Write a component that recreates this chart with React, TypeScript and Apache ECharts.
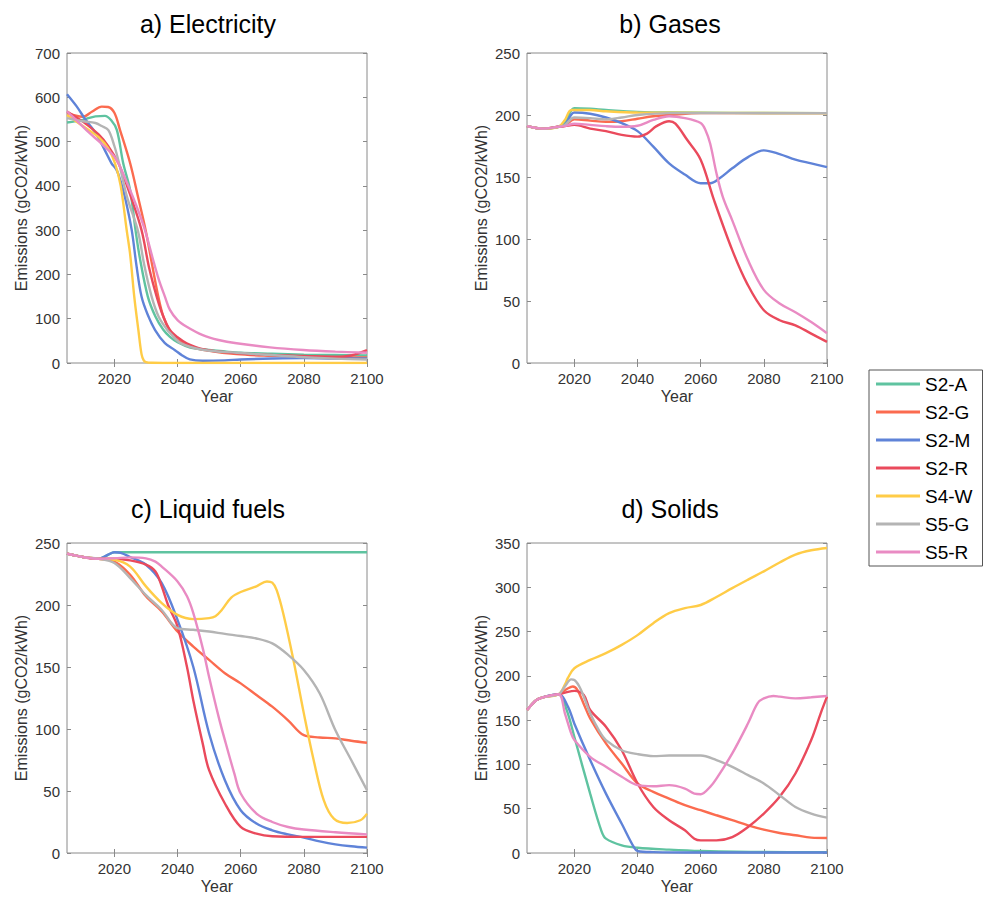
import React, { useEffect, useRef } from "react";
import * as echarts from "echarts";

// ---------- categories / labels ----------
const scenarioNames = ["S2-A", "S2-G", "S2-M", "S2-R", "S4-W", "S5-G", "S5-R"];
const scenarioColors = ["#5fc3a0", "#fb6b4f", "#5f83d8", "#ea4a5c", "#ffcc47", "#b4b4b4", "#e98bc3"];
const panelTitles = ["a) Electricity", "b) Gases", "c) Liquid fuels", "d) Solids"];
const yMaxes = [700, 250, 250, 350];
const ySteps = [100, 50, 50, 50];
const yearTicks = [2020, 2040, 2060, 2080, 2100];
const yearMin = 2005;
const yearMax = 2100;
const yName = "Emissions (gCO2/kWh)";
const xName = "Year";

// ---------- a) Electricity ----------
const elecS2A = [[2005,543],[2010,549],[2014,557],[2017,558],[2019,548],[2020.8,526],[2022.8,451],[2025,390],[2026.7,300],[2028,240],[2030.6,150],[2033,105],[2035.5,75],[2037.6,59],[2040,47],[2044,35],[2048,31],[2055,26],[2060,23],[2070,21],[2080,19],[2090,18],[2100,17]];
const elecS2G = [[2005,564],[2010,556],[2013,568],[2016,579],[2018,578],[2020,565],[2021.8,526],[2025,451],[2027.5,375],[2029.9,300],[2032,220],[2033.9,150],[2035.5,105],[2037.6,72],[2040,52],[2043,40],[2048,30],[2058.7,20],[2070,16],[2080,14],[2090,13],[2100,12.6]];
const elecS2M = [[2005,607],[2008,580],[2011,548],[2014,520],[2017,480],[2019.1,451],[2020.7,436],[2022,410],[2023.5,370],[2025.5,300],[2027,220],[2028.6,150],[2030.5,110],[2032.9,74.5],[2036,45],[2039.2,29],[2041.5,17],[2043.9,8],[2048,5],[2055,6],[2060,8],[2070,10],[2080,11],[2090,10],[2100,10]];
const elecS2R = [[2005,568],[2010,545],[2015,516],[2018,490],[2021.3,451],[2023,420],[2025,380],[2028.6,300],[2031,215],[2033.4,150],[2035.5,105],[2037.6,74.5],[2040,58],[2042.9,44.5],[2048,31],[2058.7,22],[2069.3,18],[2080,15.8],[2090,14],[2095,17],[2100,29]];
const elecS4W = [[2005,560],[2010,535],[2015,510],[2018,485],[2020.2,451],[2022,400],[2023.9,300],[2025,245],[2026.3,150],[2027.6,74.5],[2028.6,20],[2029.3,6],[2030,2],[2032,0.5],[2040,0],[2100,0]];
const elecS5G = [[2005,553],[2010,546],[2014,542],[2016,535],[2018.1,526],[2020,490],[2021.5,451],[2024,375],[2027.4,300],[2029.5,220],[2031.8,150],[2034,105],[2036.6,76],[2037.6,68],[2041,45],[2048,30],[2058.7,23],[2069.3,18],[2080,13],[2090,9.8],[2100,8]];
const elecS5R = [[2005,568],[2008,548],[2012,520],[2016,495],[2020,466],[2022,440],[2025,390],[2027.5,345],[2029.7,300],[2032,240],[2034,190],[2036,150],[2037.6,120],[2040,97],[2042.9,82],[2048,63],[2053,52],[2058.7,44.5],[2069.3,35.4],[2079.8,29.4],[2090,25.6],[2100,23]];

// ---------- b) Gases ----------
const gasS2A = [[2005,191],[2010,189],[2015,190.5],[2017,194],[2020,205.5],[2025,205],[2030,204],[2040,202.5],[2050,202],[2100,201.5]];
const gasS2G = [[2005,191],[2010,189],[2015,190.5],[2017,191.5],[2020,196.5],[2025,195.5],[2030,194.5],[2035,195],[2040,197],[2045,199],[2050,200],[2060,201.5],[2100,201.5]];
const gasS2M = [[2005,191],[2010,189],[2015,190.5],[2017,192],[2020,202],[2025,201],[2030,198],[2035,193.5],[2040,187],[2045,174.5],[2050,161],[2055,152],[2060,145],[2063,145],[2066,149],[2070,157],[2075,166],[2080,171.5],[2085,168.5],[2090,164],[2095,161],[2100,158]];
const gasS2R = [[2005,191],[2010,189],[2015,190.5],[2017,191],[2020,192],[2025,189],[2030,187],[2035,184],[2040,182.6],[2043,185],[2046,191],[2050,195],[2052,193],[2055.7,180],[2060,164],[2064.2,131.5],[2070,91],[2074.7,64],[2080,42.5],[2085,34.5],[2090,30.4],[2095,23.7],[2100,17]];
const gasS4W = [[2005,191],[2010,189],[2015,190.5],[2017,196],[2019.1,204],[2025,204],[2030,203],[2040,202],[2100,201.5]];
const gasS5G = [[2005,191],[2010,189],[2015,190.5],[2017,192],[2020,198],[2025,197.5],[2030,196.5],[2035,198],[2040,200],[2050,201.5],[2100,201.5]];
const gasS5R = [[2005,191],[2010,189],[2015,190.5],[2017,191],[2020,193],[2025,192],[2030,191],[2035,190.5],[2040,191.3],[2045,196],[2050,199],[2055,197.5],[2060,193.5],[2061.5,188],[2063,177],[2065,153],[2067,134],[2070,115],[2075,83],[2080,59],[2085,48],[2090,41],[2095,33],[2100,24]];

// ---------- c) Liquid fuels ----------
const liqS2A = [[2005,241.4],[2010,238.7],[2015,237.3],[2018,240.5],[2020,242.5],[2030,242.5],[2060,242.5],[2100,242.5]];
const liqS2G = [[2005,241.4],[2010,238.7],[2015,237.3],[2020,235],[2025,224.4],[2030,207],[2035,194.8],[2040,178.6],[2045,166.5],[2050,155.7],[2055,145],[2060,136.8],[2065,127.4],[2070,118],[2075,107],[2080,95],[2085,93.2],[2090,92.4],[2095,90.5],[2100,88.9]];
const liqS2M = [[2005,241.4],[2010,238.7],[2015,237.3],[2018,240.6],[2020,242.5],[2022,242],[2025,238.7],[2030,232.5],[2035,217.7],[2040,188],[2045,150],[2050,96.4],[2055,58.7],[2060,34.5],[2065,23.7],[2070,18.3],[2075,15],[2080,12.4],[2085,9.4],[2090,7],[2095,5.4],[2100,4.3]];
const liqS2R = [[2005,241.4],[2010,238.7],[2015,237.3],[2020,237.3],[2025,236],[2030,232.5],[2033,227],[2035,215],[2037,200],[2040,182.6],[2043,150],[2045,123],[2048,88],[2050,66.8],[2055,39.9],[2060,21],[2065,15.6],[2070,13.5],[2080,13],[2100,13]];
const liqS4W = [[2005,241.4],[2010,238.7],[2015,237.3],[2020,236.5],[2025,231],[2030,215],[2035,201.5],[2040,192],[2045,188.6],[2050,189.4],[2052,191],[2054,196],[2057,206],[2060,210.5],[2065,215],[2068.3,219],[2070,218],[2071.4,212],[2073.5,193],[2076.7,155.7],[2080,112.6],[2083.1,75],[2086.3,42.6],[2089.5,27.7],[2093.7,24.2],[2097.9,26.4],[2100,31.8]];
const liqS5G = [[2005,241.4],[2010,238.7],[2015,237.3],[2020,233.8],[2025,221.7],[2030,208],[2035,196],[2040,181.3],[2045,180],[2050,178.6],[2055,176.7],[2060,175],[2065,173],[2070,169],[2075,159.8],[2080,147.6],[2085,128.8],[2090,99],[2095,75],[2100,50.6]];
const liqS5R = [[2005,241.4],[2010,238.7],[2015,237.3],[2020,237.6],[2025,238.4],[2030,237.6],[2033,235],[2035,231],[2040,219],[2043,207],[2045,193.4],[2048,165],[2050,142],[2053,110],[2055,91],[2058,64],[2060,48],[2065,31.8],[2070,25],[2075,21],[2080,18.9],[2090,16.7],[2100,15]];

// ---------- d) Solids ----------
const solS2A = [[2005,161.4],[2008,172.8],[2010,175.8],[2015,179.2],[2017.6,161],[2020,131],[2025,67],[2028.5,25.6],[2030,16.2],[2035,8.7],[2040,6],[2050,3.8],[2060,2.3],[2080,1.1],[2100,1]];
const solS2G = [[2005,161.4],[2008,172.8],[2010,175.8],[2015,179.2],[2018,186],[2019.5,188],[2021,184],[2023,168],[2025,152],[2030,123.7],[2035,101],[2040,78.5],[2045,69],[2050,61.5],[2055,54],[2060,48.3],[2065,42.6],[2070,37],[2075,31.3],[2080,26.4],[2085,22.6],[2090,20],[2095,17.4],[2100,17]];
const solS2M = [[2005,161.4],[2008,172.8],[2010,175.8],[2015,179.2],[2018,165],[2020,146],[2025,105],[2030,67],[2035,33],[2038.8,6.8],[2040,2.3],[2045,1],[2060,0.5],[2100,0.5]];
const solS2R = [[2005,161.4],[2008,172.8],[2010,175.8],[2015,179.2],[2018,182],[2020,183],[2023,178.4],[2025,161.4],[2030,142.6],[2035,116],[2040,78.5],[2045,52],[2050,37],[2055,25.6],[2058,16.2],[2060,14.3],[2065,14.3],[2070,18],[2075,29.4],[2080,44.5],[2085,63.4],[2090,89.8],[2095,127.5],[2098,157.7],[2100,176.5]];
const solS4W = [[2005,161.4],[2008,172.8],[2010,175.8],[2015,179.2],[2017,190],[2018,198],[2020,208.6],[2025,218],[2030,225.6],[2035,235],[2040,246],[2045,259.5],[2050,270.8],[2055,276.5],[2060,280],[2065,289],[2070,299],[2075,308.6],[2080,318],[2085,328],[2090,337],[2095,341.8],[2100,344.4]];
const solS5G = [[2005,161.4],[2008,172.8],[2010,175.8],[2015,179.2],[2017,188],[2019,196],[2020,195.4],[2022,185],[2025,157.7],[2028,137],[2030,127.5],[2035,116],[2040,111.6],[2045,109.4],[2050,110],[2055,110],[2060,110],[2065,104.9],[2070,97.3],[2075,87.9],[2080,78.5],[2085,65.3],[2090,52],[2095,44.5],[2100,40]];
const solS5R = [[2005,161.4],[2008,172.8],[2010,175.8],[2015,179.2],[2017,157.7],[2019,135],[2020,127.5],[2025,108.6],[2030,97.3],[2035,86],[2040,76.6],[2045,75.4],[2050,76.6],[2055,72.8],[2058,67],[2060,66.4],[2063,74.7],[2065,84],[2070,112.4],[2075,146.4],[2078,169],[2080,174.6],[2083,177.3],[2085,176.5],[2090,174.6],[2095,175.8],[2100,177.3]];

const panelData = [
  [elecS2A, elecS2G, elecS2M, elecS2R, elecS4W, elecS5G, elecS5R],
  [gasS2A, gasS2G, gasS2M, gasS2R, gasS4W, gasS5G, gasS5R],
  [liqS2A, liqS2G, liqS2M, liqS2R, liqS4W, liqS5G, liqS5R],
  [solS2A, solS2G, solS2M, solS2R, solS4W, solS5G, solS5R],
];

// layout (positions kept separate from the data)
const gridBoxes = [
  { left: 67, top: 53 },
  { left: 527, top: 53 },
  { left: 67, top: 543 },
  { left: 527, top: 543 },
];
const titlePos = [
  { x: 208, y: 11 },
  { x: 670, y: 11 },
  { x: 208, y: 496 },
  { x: 670, y: 496 },
];

const FONT = "'Liberation Sans', Arial, Helvetica, sans-serif";
const FRAME = "#8a8a8a";
const LABEL = "#333333";

export default function App() {
  const ref = useRef<HTMLDivElement>(null);

  useEffect(() => {
    if (!ref.current) return;
    const chart = echarts.init(ref.current, undefined, { renderer: "svg" });

    const grids: any[] = [];
    const xAxes: any[] = [];
    const yAxes: any[] = [];
    const series: any[] = [];
    const titles: any[] = [];

    panelTitles.forEach((t, i) => {
      titles.push({
        text: t,
        left: titlePos[i].x,
        top: titlePos[i].y,
        textAlign: "center",
        padding: 0,
        textStyle: { fontFamily: FONT, fontSize: 25, fontWeight: "normal", color: "#000" },
      });
      grids.push({
        left: gridBoxes[i].left,
        top: gridBoxes[i].top,
        width: 300,
        height: 310,
        show: true,
        borderColor: FRAME,
        borderWidth: 1,
        backgroundColor: "transparent",
      });
      const tickStyle = { inside: true, length: 4, lineStyle: { color: FRAME, width: 1 }, customValues: yearTicks };
      xAxes.push({
        type: "value",
        gridIndex: i,
        position: "bottom",
        min: yearMin,
        max: yearMax,
        axisLine: { show: false },
        splitLine: { show: false },
        axisTick: tickStyle,
        axisLabel: {
          customValues: yearTicks,
          formatter: (v: number) => String(Math.round(v)),
          fontFamily: FONT,
          fontSize: 15,
          color: LABEL,
          margin: 8,
        },
        name: xName,
        nameLocation: "middle",
        nameGap: 25,
        nameTextStyle: { fontFamily: FONT, fontSize: 16, color: LABEL },
      });
      xAxes.push({
        type: "value",
        gridIndex: i,
        position: "top",
        min: yearMin,
        max: yearMax,
        axisLine: { show: false },
        splitLine: { show: false },
        axisTick: tickStyle,
        axisLabel: { show: false, customValues: yearTicks },
      });
      const yTick = { inside: true, length: 4, lineStyle: { color: FRAME, width: 1 } };
      yAxes.push({
        type: "value",
        gridIndex: i,
        position: "left",
        min: 0,
        max: yMaxes[i],
        interval: ySteps[i],
        axisLine: { show: false },
        splitLine: { show: false },
        axisTick: yTick,
        axisLabel: { fontFamily: FONT, fontSize: 15, color: LABEL, margin: 7 },
        name: yName,
        nameLocation: "middle",
        nameGap: 38,
        nameTextStyle: { fontFamily: FONT, fontSize: 16, color: LABEL },
      });
      yAxes.push({
        type: "value",
        gridIndex: i,
        position: "right",
        min: 0,
        max: yMaxes[i],
        interval: ySteps[i],
        axisLine: { show: false },
        splitLine: { show: false },
        axisTick: yTick,
        axisLabel: { show: false },
      });

      panelData[i].forEach((arr, k) => {
        series.push({
          type: "line",
          name: scenarioNames[k],
          xAxisIndex: i * 2,
          yAxisIndex: i * 2,
          data: arr,
          symbol: "none",
          showSymbol: false,
          smooth: 0.35,
          color: scenarioColors[k],
          itemStyle: { color: scenarioColors[k] },
          lineStyle: { width: 2.4, color: scenarioColors[k] },
          emphasis: { disabled: true },
        });
      });
    });

    chart.setOption({
      animation: false,
      backgroundColor: "#ffffff",
      textStyle: { fontFamily: FONT },
      title: titles,
      grid: grids,
      xAxis: xAxes,
      yAxis: yAxes,
      legend: {
        data: scenarioNames,
        orient: "vertical",
        left: 869,
        top: 370,
        padding: [4.5, 10, 4.5, 7],
        icon: "rect",
        itemWidth: 44,
        itemHeight: 3,
        itemGap: 9,
        borderColor: "#555555",
        borderWidth: 1,
        backgroundColor: "#ffffff",
        selectedMode: false,
        textStyle: { fontFamily: FONT, fontSize: 19, lineHeight: 19, color: "#000" },
      },
      series,
    });

    return () => {
      chart.dispose();
    };
  }, []);

  return (
    <div
      ref={ref}
      style={{ position: "fixed", left: 0, top: 0, width: 986, height: 911, background: "#fff" }}
    />
  );
}
